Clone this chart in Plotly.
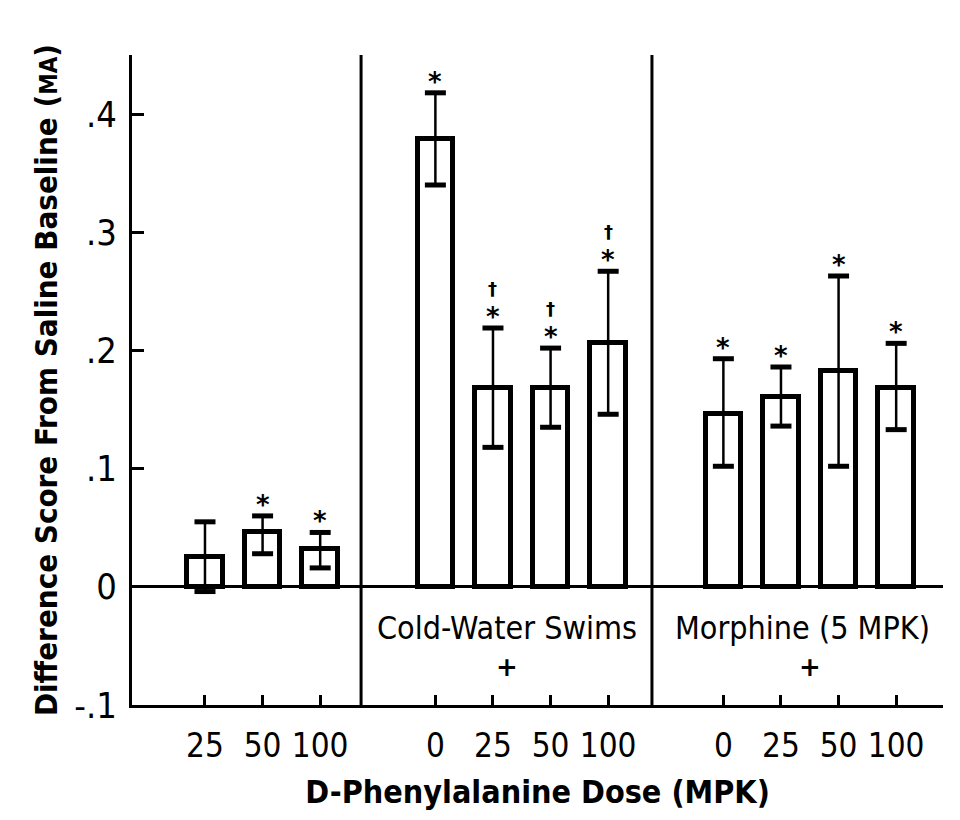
import plotly.graph_objects as go

# ---- data ----
positions = [1, 2, 3, 5, 6, 7, 8, 10, 11, 12, 13]
dose_labels = ["25", "50", "100", "0", "25", "50", "100", "0", "25", "50", "100"]
means = [0.025, 0.046, 0.032, 0.379, 0.168, 0.168, 0.206, 0.146, 0.161, 0.183, 0.168]
err_upper = [0.055, 0.060, 0.046, 0.418, 0.219, 0.202, 0.267, 0.193, 0.186, 0.263, 0.206]
err_lower = [-0.004, 0.028, 0.016, 0.340, 0.118, 0.135, 0.146, 0.102, 0.136, 0.102, 0.133]
stars = ["", "*", "*", "*", "*", "*", "*", "*", "*", "*", "*"]
daggers = ["", "", "", "", "†", "†", "†", "", "", "", ""]
dividers = [3.71, 8.76]
group_labels = ["Cold-Water Swims", "Morphine (5 MPK)"]
group_label_x = [6.235, 11.37]
plus_x = [6.235, 11.5]
ytick_vals = [-0.1, 0, 0.1, 0.2, 0.3, 0.4]
ytick_text = ["-.1", "0", ".1", ".2", ".3", ".4"]

FONT = "DejaVu Sans Condensed, Liberation Sans Narrow, Roboto Condensed, sans-serif"

plus = [u - m for u, m in zip(err_upper, means)]
minus = [m - l for m, l in zip(means, err_lower)]

fig = go.Figure()
fig.add_trace(go.Bar(
    x=positions, y=means, width=0.62,
    marker=dict(color="white", line=dict(color="black", width=5)),
    error_y=dict(type="data", symmetric=False, array=plus, arrayminus=minus,
                 color="black", thickness=2.5, width=0),
    showlegend=False,
))
# error bar caps
fig.add_trace(go.Scatter(
    x=positions + positions, y=err_upper + err_lower, mode="markers",
    marker=dict(symbol="line-ew", size=15, line=dict(color="black", width=5)),
    showlegend=False, hoverinfo="skip",
))

for x, top, s, d in zip(positions, err_upper, stars, daggers):
    if s:
        fig.add_annotation(x=x, y=top, text="<b>*</b>", showarrow=False, yanchor="middle",
                           yshift=11, font=dict(size=26, color="black", family="DejaVu Sans"))
    if d:
        fig.add_annotation(x=x, y=top, text="<b>†</b>", showarrow=False, yanchor="middle",
                           yshift=40, font=dict(size=18, color="black", family="DejaVu Sans"))

for xd in dividers:
    fig.add_shape(type="line", x0=xd, x1=xd, y0=-0.1, y1=0.45, xref="x", yref="y",
                  line=dict(color="black", width=3))

for lbl, lx, px in zip(group_labels, group_label_x, plus_x):
    fig.add_annotation(x=lx, y=-0.035, text=lbl, showarrow=False,
                       font=dict(size=32, color="black", family=FONT))
    fig.add_annotation(x=px, y=-0.068, text="<b>+</b>", showarrow=False,
                       font=dict(size=26, color="black", family="DejaVu Sans"))

# page body has an 8px margin, so the figure is sized to fit the visible window
fig.update_layout(
    width=952, height=812,
    margin=dict(l=124, r=17, t=47, b=115),
    plot_bgcolor="white", paper_bgcolor="white",
    font=dict(family=FONT, color="black"),
    bargap=0,
)
fig.update_xaxes(
    range=[-0.267, 13.813], tickmode="array", tickvals=positions, ticktext=dose_labels,
    ticks="inside", ticklen=10, tickwidth=2.5, tickcolor="black",
    showline=True, linewidth=3, linecolor="black", showgrid=False, zeroline=False,
    tickfont=dict(size=33, family=FONT), ticklabelstandoff=9, automargin=False,
    title=dict(text="<b>D-Phenylalanine Dose (MPK)</b>", font=dict(size=32, family=FONT), standoff=18),
)
fig.update_yaxes(
    range=[-0.1, 0.45], tickmode="array", tickvals=ytick_vals, ticktext=ytick_text,
    ticks="inside", ticklen=12, tickwidth=3, tickcolor="black",
    showline=True, linewidth=3, linecolor="black", showgrid=False,
    zeroline=True, zerolinewidth=3, zerolinecolor="black",
    tickfont=dict(size=36, family=FONT), ticklabelstandoff=5, automargin=False,
    title=dict(text="<b>Difference Score From Saline Baseline (<span style='font-size:24px'>MA</span>)</b>",
               font=dict(size=31, family=FONT), standoff=8),
)

fig.write_html("out.html")
